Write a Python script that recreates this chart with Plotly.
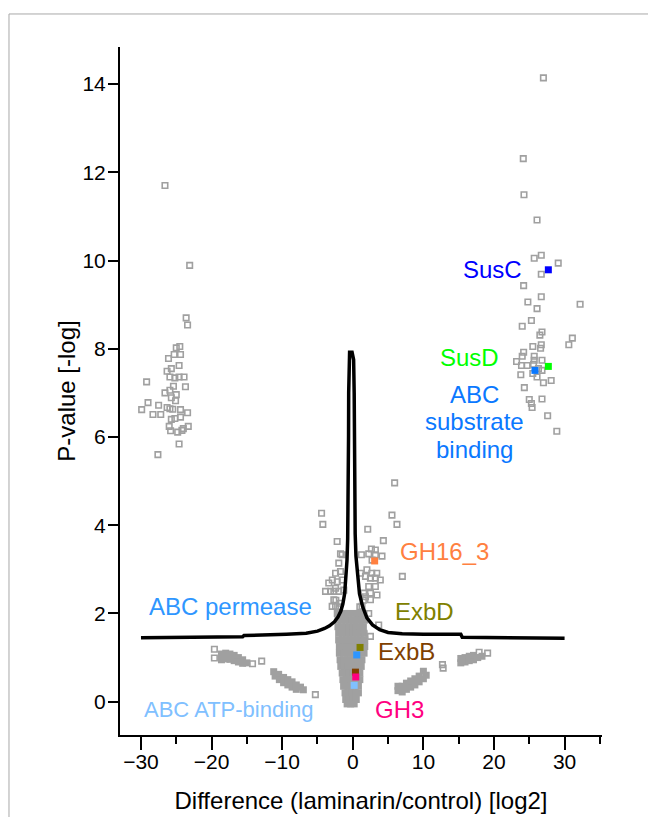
import plotly.graph_objects as go

FONT = "Liberation Sans, Arial, sans-serif"
GRAY = "#a0a0a0"

# ---- scattered proteins (open squares) ----
left_x = [-26.6, -23.1, -23.6, -23.4, -24.5, -25.0, -25.3, -24.4, -26.1, -24.6, -25.7, -26.3, -25.9, -25.2, -24.6,
          -23.9, -29.2, -25.4, -23.7, -26.6, -25.9, -25.0, -25.7, -25.1, -29.0, -27.5, -29.9, -26.3, -25.9, -25.5,
          -24.4, -23.4, -28.3, -27.2, -25.7, -25.2, -24.4, -26.0, -23.3, -24.0, -25.8, -24.8, -24.2, -24.6, -27.6]
left_y = [11.70, 9.89, 8.70, 8.54, 8.05, 8.02, 7.87, 7.87, 7.78, 7.62, 7.55, 7.49, 7.36, 7.34, 7.36,
          7.36, 7.25, 7.15, 7.14, 7.00, 7.06, 6.96, 6.89, 6.82, 6.78, 6.72, 6.62, 6.67, 6.64, 6.63,
          6.62, 6.55, 6.51, 6.51, 6.40, 6.42, 6.45, 6.24, 6.24, 6.19, 6.14, 6.11, 6.15, 5.84, 5.60]

right_x = [27.0, 24.15, 24.25, 26.1, 25.7, 26.7, 29.1, 26.7, 24.2, 26.7, 24.8, 26.1, 32.2, 25.3, 24.0, 26.8, 26.5,
           31.1, 30.6, 25.5, 26.7, 26.6, 24.2, 24.0, 25.7, 25.7, 26.8, 23.2, 23.9, 24.7, 25.6, 26.3, 26.8, 23.8,
           25.5, 26.1, 27.0, 28.1, 24.3, 25.0, 25.3, 25.4, 26.8, 27.6, 28.9]
right_y = [14.14, 12.31, 11.49, 10.92, 10.05, 10.12, 9.94, 9.69, 9.43, 9.18, 9.06, 8.91, 9.01, 8.64, 8.51, 8.38, 8.31,
           8.24, 8.09, 8.05, 8.09, 8.01, 7.92, 7.83, 7.83, 7.74, 7.74, 7.71, 7.62, 7.62, 7.65, 7.55, 7.51, 7.41,
           7.44, 7.36, 7.23, 7.28, 7.12, 6.85, 6.76, 6.67, 6.86, 6.48, 6.13]

mid_x = [5.93, -4.42, 5.55, -4.24, 6.26, 2.12, 4.33, -2.21, 2.64, 3.2, 4.14, 2.26, 3.2, -1.74, -1.98, 7.02, 2.0, 2.7,
         3.4, 1.8, 2.5, 3.2, 3.9, -1.74, -2.9, -2.2, -1.5, -3.4, -3.86, -2.68, -1.98, -1.27, 2.26, 3.2, 2.5, 3.43,
         1.8, 3.67, -2.68, -2.44, -1.74, 1.22, 2.73, 1.09, 1.55, 2.5, 1.31, 2.26, 1.55, 2.5, -2.44, -2.44, -3.15,
         -2.92, -1.5, -19.6, -19.6, -14.2, -12.9, -5.3, 12.7, 12.8, 17.9, 19.1, -2.4, 1.5, -1.9, 1.0]
mid_y = [4.96, 4.27, 4.23, 4.02, 4.02, 3.91, 3.65, 3.63, 3.46, 3.44, 3.30, 3.35, 3.33, 3.35, 3.14, 2.84, 2.99, 2.91,
         2.91, 2.84, 2.80, 2.80, 2.76, 2.95, 2.76, 2.72, 2.76, 2.69, 2.50, 2.50, 2.50, 2.53, 2.61, 2.61, 2.46, 2.42,
         2.38, 1.74, 2.31, 2.16, 2.23, 3.33, 3.21, 2.91, 2.46, 2.31, 2.16, 2.00, 1.52, 1.48, 2.91, 2.57, 2.50,
         2.16, 3.33, 1.19, 0.99, 0.86, 0.92, 0.16, 0.84, 0.76, 1.12, 1.10, 2.30, 2.30, 2.15, 2.15]

# ---- densely packed proteins (look solid) ----
core_rows = [
    (2.00, [-2.2, -1.7, -1.2, -0.7, 0.2, 0.7, 1.2, 1.6]),
    (1.85, [-2.1, -1.6, -1.1, -0.6, -0.1, 0.3, 0.8, 1.3, 1.7]),
    (1.70, [-2.1, -1.6, -1.0, -0.5, 0.0, 0.5, 1.0, 1.5]),
    (1.55, [-2.0, -1.5, -1.0, -0.5, 0.0, 0.5, 1.0, 1.6]),
    (1.40, [-2.0, -1.4, -0.9, -0.4, 0.1, 0.6, 1.1, 1.7]),
    (1.25, [-1.9, -1.4, -0.9, -0.4, 0.1, 0.6, 1.1, 1.7]),
    (1.10, [-1.9, -1.3, -0.8, -0.3, 0.2, 0.7, 1.2, 1.6]),
    (0.95, [-1.8, -1.3, -0.8, -0.3, 0.2, 0.7, 1.3]),
    (0.80, [-1.7, -1.2, -0.7, -0.2, 0.3, 0.8, 1.2]),
    (0.65, [-1.5, -1.0, -0.5, 0.0, 0.5, 1.0]),
    (0.50, [-1.4, -0.9, -0.4, 0.1, 0.6, 1.0]),
    (0.35, [-1.3, -0.8, -0.3, 0.2, 0.8]),
    (0.20, [-1.1, -0.6, -0.1, 0.4, 0.8]),
    (0.05, [-1.0, -0.5, 0.0, 0.5]),
    (-0.05, [-0.8, -0.3, 0.2]),
]
blob_x = [-18.6, -18.6, -18.0, -18.0, -17.4, -17.4, -16.8, -16.8, -16.2, -16.2, -15.6, -15.6, -15.0,
          -11.2, -11.0, -10.5, -10.4, -9.8, -9.8, -9.2, -9.2, -8.6, -8.6, -8.0, -8.0, -7.4, -7.0,
          6.4, 6.4, 7.0, 7.0, 7.6, 7.6, 8.2, 8.2, 8.8, 8.8, 9.4, 9.4, 10.0, 10.0, 10.4,
          15.3, 15.3, 15.9, 15.9, 16.5, 16.5, 17.1, 17.1, 17.7, 18.3]
blob_y = [1.08, 0.95, 1.10, 0.97, 1.08, 0.96, 1.05, 0.93, 1.00, 0.90, 0.95, 0.87, 0.88,
          0.68, 0.58, 0.62, 0.50, 0.55, 0.43, 0.50, 0.38, 0.45, 0.33, 0.38, 0.28, 0.33, 0.27,
          0.25, 0.35, 0.22, 0.35, 0.28, 0.42, 0.33, 0.47, 0.38, 0.52, 0.45, 0.58, 0.52, 0.69, 0.60,
          0.88, 0.98, 0.90, 1.00, 0.93, 1.03, 0.95, 1.05, 1.00, 1.03]

core_x = [x for _, xs in core_rows for x in xs] + blob_x
core_y = [y for y, xs in core_rows for _ in xs] + blob_y

# ---- significance threshold curve ----
thr_x = [-30, -20, -15.6, -15.4, -9.6, -9.4, -6.6, -5.0, -4.0, -3.3, -2.6, -2.1, -1.7, -1.4, -1.15, -0.95, -0.82,
         -0.72, -0.66, -0.62, -0.60, -0.58, -0.56, -0.45, -0.1, 0.12, 0.2, 0.22, 0.24, 0.28, 0.34, 0.45, 0.65, 0.95,
         1.4, 2.0, 2.8, 3.8, 5.0, 7.0, 10, 15.3, 15.5, 22, 30]
thr_y = [1.45, 1.46, 1.47, 1.50, 1.51, 1.53, 1.55, 1.60, 1.66, 1.72, 1.81, 1.92, 2.05, 2.22, 2.45, 2.8, 3.2,
         3.7, 4.3, 5.0, 6.0, 7.0, 7.75, 7.92, 7.92, 7.75, 7.0, 6.0, 5.0, 4.4, 3.8, 3.3, 2.85, 2.45,
         2.15, 1.9, 1.74, 1.63, 1.57, 1.54, 1.53, 1.53, 1.46, 1.45, 1.44]

# ---- highlighted proteins ----
hl_names = ["SusC", "SusD", "ABC substrate binding", "GH16_3", "ExbD", "ABC permease", "ExbB", "GH3", "ABC ATP-binding"]
hl_x = [27.7, 27.7, 25.8, 3.1, 1.03, 0.56, 0.38, 0.42, 0.2]
hl_y = [9.79, 7.60, 7.51, 3.19, 1.23, 1.06, 0.67, 0.56, 0.37]
hl_colors = ["#0000ff", "#00ff00", "#0a78ff", "#ff8040", "#808000", "#2e96ff", "#804000", "#ff0080", "#80c0ff"]

# label texts, anchor positions (data units)
lab_text = ["SusC", "SusD", "ABC", "substrate", "binding", "GH16_3", "ExbD", "ExbB", "GH3", "ABC permease", "ABC ATP-binding"]
lab_x = [24.3, 16.5, 17.2, 17.2, 17.2, 6.4, 5.7, 3.3, 2.8, -17.3, -17.6]
lab_y = [9.80, 7.81, 6.97, 6.34, 5.71, 3.40, 2.04, 1.14, -0.18, 2.15, -0.18]
lab_anchor = ["right", "center", "center", "center", "center", "left", "left", "left", "left", "center", "center"]
lab_color = ["#0000ff", "#00ff00", "#0a78ff", "#0a78ff", "#0a78ff", "#ff8040", "#808000", "#804000", "#ff0080",
             "#2e96ff", "#80c0ff"]
lab_size = [24, 24, 24, 24, 24, 24, 24, 24, 24, 24, 22]

fig = go.Figure()
fig.add_trace(go.Scatter(x=core_x, y=core_y, mode="markers",
                         marker=dict(symbol="square", size=7, color=GRAY, line=dict(width=0)),
                         showlegend=False, hoverinfo="skip"))
fig.add_trace(go.Scatter(x=left_x + right_x + mid_x, y=left_y + right_y + mid_y, mode="markers",
                         marker=dict(symbol="square-open", size=5.5, color=GRAY, line=dict(width=1.6, color=GRAY)),
                         showlegend=False))
fig.add_trace(go.Scatter(x=thr_x, y=thr_y, mode="lines", line=dict(color="black", width=3.5),
                         showlegend=False, hoverinfo="skip"))
fig.add_trace(go.Scatter(x=hl_x, y=hl_y, mode="markers", text=hl_names,
                         marker=dict(symbol="square", size=7, color=hl_colors, line=dict(width=0)),
                         showlegend=False))

for t, x, y, a, c, s in zip(lab_text, lab_x, lab_y, lab_anchor, lab_color, lab_size):
    fig.add_annotation(x=x, y=y, xref="x", yref="y", text=t, showarrow=False,
                       xanchor=a, yanchor="middle", font=dict(family=FONT, size=s, color=c))

# thin grey frame around the figure (left and top edges visible)
fig.add_shape(type="rect", xref="paper", yref="paper", x0=-0.2303, x1=1.2, y0=-0.3, y1=1.048,
              line=dict(color="#a8a8a8", width=1), layer="above")

axis_common = dict(showgrid=False, zeroline=False, showline=True, linecolor="black", linewidth=2,
                   ticks="outside", tickcolor="black", tickwidth=2, mirror=False, automargin=False,
                   tickfont=dict(family=FONT, size=21, color="black"))

fig.update_layout(
    width=648, height=817,
    margin=dict(l=120, r=46, t=47, b=82, autoexpand=False),
    paper_bgcolor="white", plot_bgcolor="white",
    font=dict(family=FONT, color="black"),
    xaxis=dict(range=[-32.97, 35.3], tickmode="array", tickvals=[-30, -20, -10, 0, 10, 20, 30],
               ticklen=13, ticklabelstandoff=-6,
               minor=dict(tickvals=[-25, -15, -5, 5, 15, 25, 35], ticklen=7, tickwidth=2, tickcolor="black",
                          ticks="outside", showgrid=False),
               title=dict(text="Difference (laminarin/control) [log2]", font=dict(family=FONT, size=24),
                          standoff=20),
               **axis_common),
    yaxis=dict(range=[-0.755, 14.84], tickmode="array", tickvals=[0, 2, 4, 6, 8, 10, 12, 14],
               ticklen=10, ticklabelstandoff=-2,
               title=dict(text="P-value [-log]", font=dict(family=FONT, size=24), standoff=0),
               **axis_common),
)

fig.write_html("out.html")
